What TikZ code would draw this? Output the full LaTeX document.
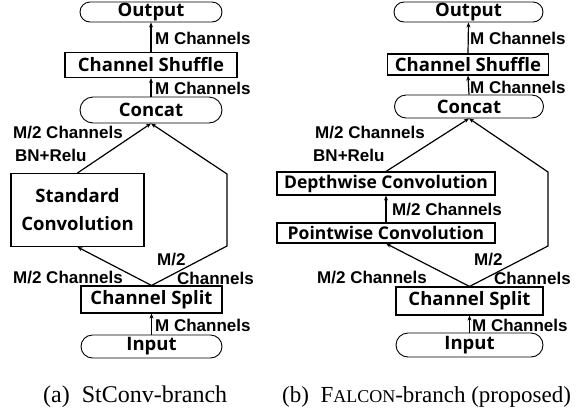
\documentclass[tikz,border=0pt]{standalone}
\usepackage{fontspec}
\setmainfont{Liberation Serif}
\newfontfamily\labf{Liberation Sans}
\newfontfamily\boxff{Open Sans}[BoldFont={* Bold}]
\usetikzlibrary{shapes.misc,arrows.meta}
\begin{document}
\begin{tikzpicture}[x=1pt,y=-1pt,
  lab/.style={font=\labf\bfseries\fontsize{17}{19}\selectfont,inner sep=0pt,anchor=west},
  term/.style={draw,rounded rectangle,line width=0.9pt,inner sep=0pt,font=\boxff\bfseries\fontsize{18.5}{20}\selectfont},
  rbox/.style={draw,rectangle,line width=1.1pt,inner sep=0pt,font=\boxff\bfseries\fontsize{18.5}{20}\selectfont},
  smallbox/.style={rbox,font=\boxff\bfseries\fontsize{17.5}{20}\selectfont},
  arr/.style={line width=1.2pt,-{Stealth[length=5pt,width=4pt]}},
  captext/.style={font=\fontsize{24}{26}\selectfont,inner sep=0pt,anchor=base west}
]
\useasboundingbox (0,0) rectangle (576,408);
% ---------- left panel ----------
\node[term,minimum width=142pt,minimum height=20pt] (outL) at (151,12) {Output};
\node[rbox,minimum width=172pt,minimum height=25pt] (shufL) at (151,65) {Channel Shuffle};
\node[term,minimum width=142pt,minimum height=26pt] (concL) at (151,110) {Concat};
\node[rbox,minimum width=133pt,minimum height=73pt,align=center,font=\boxff\bfseries\fontsize{18.5}{28}\selectfont] (stdL) at (77.5,210) {Standard\\Convolution};
\node[rbox,minimum width=141pt,minimum height=27pt] (splitL) at (151.5,299.5) {Channel Split};
\node[term,minimum width=141pt,minimum height=23pt] (inL) at (151.5,346.5) {Input};
\coordinate (ruL) at (227,174);
\coordinate (rdL) at (227,246);
\draw[arr] (shufL.north) -- (outL.south);
\draw[arr] (concL.north) -- (shufL.south);
\draw[arr] (inL.north) -- (splitL.south);
\draw[arr] (stdL.north) -- (concL.south);
\draw[arr] (splitL.north) -- (stdL.south);
\draw[arr] (splitL.north) -- (rdL) -- (ruL) -- (concL.south);
\node[lab] (l1) at (155,38) {M Channels};
\node[lab] (l2) at (155,88) {M Channels};
\node[lab] (l3) at (13,133) {M/2 Channels};
\node[lab] (l4) at (15,155) {BN+Relu};
\node[lab] (l5) at (157,260) {M/2};
\node[lab] (l6) at (13,278) {M/2 Channels};
\node[lab] (l7) at (177,278) {Channels};
\node[lab] (l8) at (155,325) {M Channels};
\node[captext] (capA) at (43,402) {(a)\hspace{0.5em}StConv-branch};
% ---------- right panel ----------
\node[term,minimum width=149pt,minimum height=20pt] (outR) at (468.5,12) {Output};
\node[rbox,minimum width=161pt,minimum height=21pt] (shufR) at (468,64.5) {Channel Shuffle};
\node[term,minimum width=149pt,minimum height=23pt] (concR) at (469,106.5) {Concat};
\node[smallbox,minimum width=218pt,minimum height=23pt] (dwR) at (386,183.5) {Depthwise Convolution};
\node[smallbox,minimum width=218pt,minimum height=20pt] (pwR) at (386,233) {Pointwise Convolution};
\node[rbox,minimum width=147pt,minimum height=28pt] (splitR) at (469.5,301) {Channel Split};
\node[term,minimum width=147pt,minimum height=24pt] (inR) at (469.5,345) {Input};
\coordinate (ruR) at (548,172);
\coordinate (rdR) at (548,246);
\draw[arr] (shufR.north) -- (outR.south);
\draw[arr] (concR.north) -- (shufR.south);
\draw[arr] (inR.north) -- (splitR.south);
\draw[arr] (pwR.north) -- (dwR.south);
\draw[arr] (dwR.north) -- (concR.south);
\draw[arr] (splitR.north) -- (pwR.south);
\draw[arr] (splitR.north) -- (rdR) -- (ruR) -- (concR.south);
\node[lab] (r1) at (470,38) {M Channels};
\node[lab] (r2) at (470,87) {M Channels};
\node[lab] (r3) at (315,133) {M/2 Channels};
\node[lab] (r4) at (313,155) {BN+Relu};
\node[lab] (r5) at (392,210) {M/2 Channels};
\node[lab] (r6) at (474,260) {M/2};
\node[lab] (r7) at (317,278) {M/2 Channels};
\node[lab] (r8) at (494,278) {Channels};
\node[lab] (r9) at (472,325) {M Channels};
\node[captext,font=\fontsize{23}{26}\selectfont] (capB) at (282,402) {(b)\hspace{0.5em}F{\fontsize{18}{20}\selectfont ALCON}-branch (proposed)};
\end{tikzpicture}
\end{document}
